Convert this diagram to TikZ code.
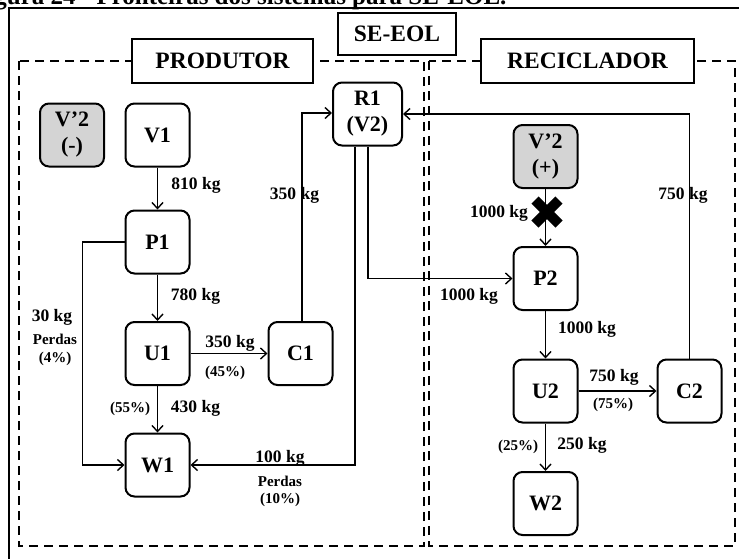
\documentclass[tikz,border=0pt]{standalone}
\usepackage{fontspec}
\setmainfont{Liberation Serif}
\usetikzlibrary{arrows.meta}
\begin{document}
\begin{tikzpicture}[x=1pt,y=-1pt,
  box/.style={draw, line width=2pt, rounded corners=9pt, minimum width=64pt, minimum height=63pt,
    font=\fontsize{22}{26}\selectfont\bfseries, align=center, inner sep=0pt, fill=white},
  gbox/.style={box, fill=black!17},
  hdr/.style={draw, line width=2.2pt, fill=white, font=\fontsize{23.5}{26}\selectfont\bfseries, inner sep=0pt},
  lbl/.style={font=\fontsize{17.5}{19}\selectfont\bfseries, inner sep=0pt},
  sml/.style={font=\fontsize{15}{17.5}\selectfont\bfseries, inner sep=0pt, align=center},
  arr/.style={line width=1.4pt, -{Straight Barb[length=6pt,width=11pt,line width=1.4pt]}},
  bound/.style={line width=2.6pt, dash pattern=on 9pt off 6pt},
  frame/.style={line width=2.6pt}
]
\useasboundingbox (0,0) rectangle (739,558);
\clip (0,0) rectangle (739,558);
% caption (cut at the top of the picture)
\node[anchor=base west, inner sep=0pt, font=\fontsize{25}{27}\selectfont\bfseries] (cap) at (-28,4) {Figura 24 - Fronteiras dos sistemas para SE-EOL.};
% outer frame
\draw[frame] (9,8) rectangle (760,580);
% boundaries
\draw[bound] (19,61) rectangle (424,546);
\draw[bound] (429,61) rectangle (735,546);
% headers
\node[hdr, minimum width=118pt, minimum height=42pt] (seeol) at (397,34) {SE-EOL};
\node[hdr, minimum width=181pt, minimum height=44pt] (prod) at (222.5,61) {PRODUTOR};
\node[hdr, minimum width=213pt, minimum height=44pt] (recic) at (587.5,61) {RECICLADOR};
% nodes
\node[gbox] (V2m) at (72,135) {V’2\\(-)};
\node[box] (V1) at (157.5,135) {V1};
\node[box] (P1) at (157.5,242) {P1};
\node[box, minimum width=69pt] (R1) at (367.5,114) {R1\\(V2)};
\node[box] (U1) at (157.5,353.5) {U1};
\node[box] (C1) at (300.5,353.5) {C1};
\node[box] (W1) at (157.5,465) {W1};
\node[gbox] (V2p) at (545.5,156.5) {V’2\\(+)};
\node[box] (P2) at (545.5,278.5) {P2};
\node[box] (U2) at (545.5,391) {U2};
\node[box] (C2) at (689.5,391) {C2};
\node[box] (W2) at (545.5,503.5) {W2};
% connectors
\draw[arr] (V1) -- (P1);
\draw[arr] (P1) -- (U1);
\draw[arr] (U1) -- (C1);
\draw[arr] (U1) -- (W1);
\draw[arr] (P1.west) -- ++(-42,0) |- (W1.west);
\draw[arr] ([xshift=1.5pt]C1.north) |- ([yshift=1pt]R1.west);
\draw[arr] ([xshift=-12.5pt]R1.south) |- (W1.east);
\draw[arr] ([xshift=0.5pt]R1.south) |- (P2.west);
\draw[arr] (V2p) -- (P2);
\draw[arr] (P2) -- (U2);
\draw[arr] (U2) -- (C2);
\draw[arr] (U2) -- (W2);
\draw[arr] (C2.north) |- (R1.east);
% cross
\coordinate (X) at (547,212);
\draw[line width=10pt] ([shift={(-12,-12)}]X) -- ([shift={(12,12)}]X)
                       ([shift={(-12,12)}]X) -- ([shift={(12,-12)}]X);
% labels
\node[lbl] (l810) at (196,185) {810 kg};
\node[lbl] (l780) at (195.5,296) {780 kg};
\node[lbl] (l30) at (52,317) {30 kg};
\node[sml] (lper1) at (55,350) {Perdas\\(4\%)};
\node[lbl] (l350a) at (230,343) {350 kg};
\node[sml] (l45) at (225,373) {(45\%)};
\node[sml] (l55) at (130,409) {(55\%)};
\node[lbl] (l430) at (195.5,408) {430 kg};
\node[lbl] (l100) at (280,458) {100 kg};
\node[sml] (lper2) at (280,491.5) {Perdas\\(10\%)};
\node[lbl] (l350b) at (294.5,195) {350 kg};
\node[lbl] (l1000a) at (469,296) {1000 kg};
\node[lbl] (l1000b) at (499,213) {1000 kg};
\node[lbl] (l750a) at (683,195) {750 kg};
\node[lbl] (l1000c) at (587,329) {1000 kg};
\node[lbl] (l750b) at (614,377) {750 kg};
\node[sml] (l75) at (613,405) {(75\%)};
\node[sml] (l25) at (518,447) {(25\%)};
\node[lbl] (l250) at (582,445) {250 kg};
\end{tikzpicture}
\end{document}
